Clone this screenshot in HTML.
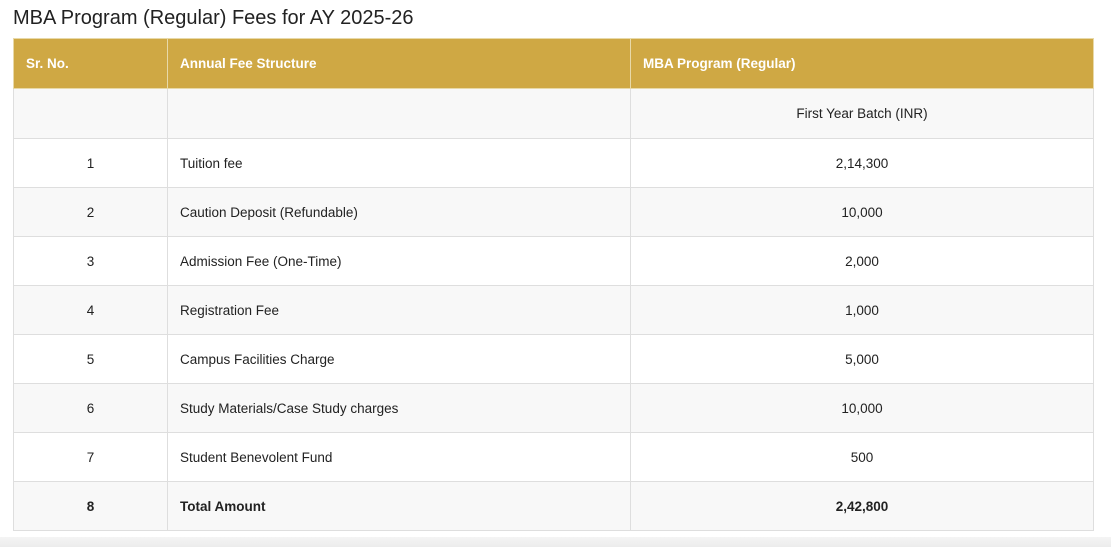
<!DOCTYPE html>
<html><head><style>
body{margin:0;width:1111px;height:547px;background:#fff;font-family:"Liberation Sans",sans-serif;position:relative;overflow:hidden}
.t{position:absolute;left:13px;top:7px;font-size:20px;color:#222}
table{position:absolute;left:13px;top:38px;border-collapse:collapse;width:1080px;table-layout:fixed;font-size:13.5px;color:#222}
td,th{border:1px solid #dedede;height:48px;padding:0 12px}
th{background:#cfa844;color:#fff;text-align:left;font-size:13.5px;border-color:#e8d9a8;height:49px}
tr.f td{height:49px}
tr:nth-child(even) td{background:#f8f8f8}
.c{text-align:center}
.b td{font-weight:bold}
.bot{position:absolute;left:0;top:537px;width:1111px;height:10px;background:linear-gradient(#f4f4f4,#ececec)}
</style></head><body>
<div class="t">MBA Program (Regular) Fees for AY 2025-26</div>
<table>
<colgroup><col style="width:154px"><col style="width:463px"><col style="width:463px"></colgroup>
<tr><th>Sr. No.</th><th>Annual Fee Structure</th><th>MBA Program (Regular)</th></tr>
<tr class="f"><td></td><td></td><td class="c">First Year Batch (INR)</td></tr>
<tr><td class="c">1</td><td>Tuition fee</td><td class="c">2,14,300</td></tr>
<tr><td class="c">2</td><td>Caution Deposit (Refundable)</td><td class="c">10,000</td></tr>
<tr><td class="c">3</td><td>Admission Fee (One-Time)</td><td class="c">2,000</td></tr>
<tr><td class="c">4</td><td>Registration Fee</td><td class="c">1,000</td></tr>
<tr><td class="c">5</td><td>Campus Facilities Charge</td><td class="c">5,000</td></tr>
<tr><td class="c">6</td><td>Study Materials/Case Study charges</td><td class="c">10,000</td></tr>
<tr><td class="c">7</td><td>Student Benevolent Fund</td><td class="c">500</td></tr>
<tr class="b"><td class="c">8</td><td>Total Amount</td><td class="c">2,42,800</td></tr>
</table>
<div class="bot"></div>
</body></html>
